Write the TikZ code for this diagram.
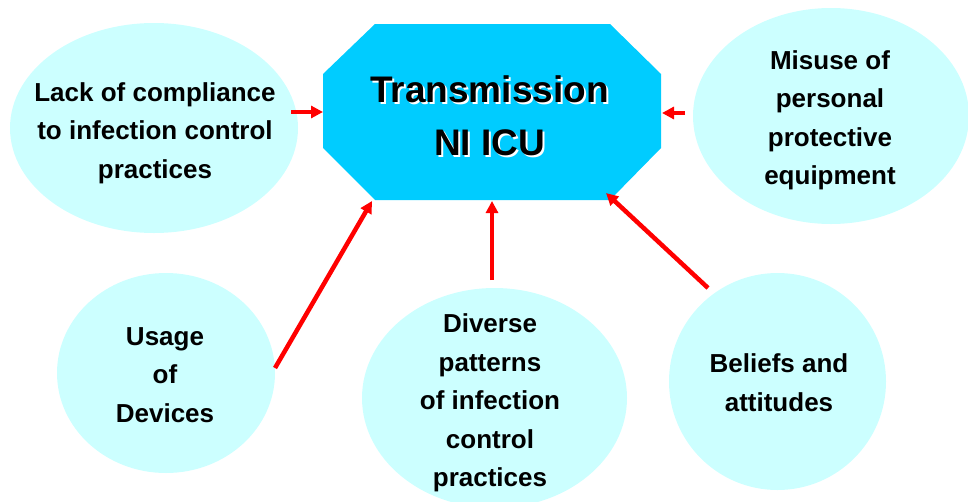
\documentclass[tikz,border=0pt]{standalone}
\usepackage{fontspec}
\setmainfont{Liberation Sans}
\usetikzlibrary{shapes.geometric,arrows.meta}
\definecolor{octblue}{HTML}{00CCFF}
\definecolor{blobcyan}{HTML}{CCFFFF}
\definecolor{arrred}{HTML}{FF0000}
\newcommand\shadowtxt[1]{\leavevmode\rlap{\kern2pt\raisebox{-2pt}{\color{white}#1}}#1}
\begin{document}
\begin{tikzpicture}[x=1pt,y=-1pt,
  blob/.style={ellipse,fill=blobcyan,draw=none,inner sep=0pt},
  txt/.style={align=center,inner sep=0pt,font=\bfseries\fontsize{26}{38.5}\selectfont},
  ttl/.style={align=center,inner sep=0pt,font=\bfseries\fontsize{37}{53}\selectfont},
  arr/.style={draw=arrred,line width=4.5pt,-{Triangle[length=12pt,width=12pt]}}]
\useasboundingbox (0,0) rectangle (968,501);
% central octagon
\fill[octblue] (375,24) -- (610,24) -- (661,74) -- (661,148) -- (610,200) -- (375,200) -- (323,148) -- (323,74) -- cycle;
\node[inner sep=0pt,minimum width=338pt,minimum height=176pt] (oct) at (492,112) {};
\node[ttl,text=black] (title) at (489.5,116.5) {\shadowtxt{Transmission}\\\shadowtxt{NI ICU}};
% ellipses
\node[blob,minimum width=288pt,minimum height=210pt] (lack) at (154,128) {};
\node[blob,minimum width=276pt,minimum height=216pt] (misuse) at (831,116) {};
\node[blob,minimum width=218pt,minimum height=200pt] (usage) at (166,373) {};
\node[blob,minimum width=265pt,minimum height=220pt] (diverse) at (494.5,398) {};
\node[blob,minimum width=217pt,minimum height=217pt] (beliefs) at (777.5,381.5) {};
% texts
\node[txt] (lackT) at (155,133) {Lack of compliance\\to infection control\\practices};
\node[txt] (misuseT) at (830,120.5) {Misuse of\\personal\\protective\\equipment};
\node[txt] (usageT) at (165,375) {Usage\\of\\Devices};
\node[txt] (diverseT) at (490,403) {Diverse\\patterns\\of infection\\control\\practices};
\node[txt] (beliefsT) at (779,382.5) {Beliefs and\\attitudes};
% arrow endpoints
\coordinate (t1) at (291,112); \coordinate (h1) at (323,112);
\coordinate (t2) at (685,113); \coordinate (h2) at (662,113);
\coordinate (t3) at (275,368); \coordinate (h3) at (372,201);
\coordinate (t4) at (492,280); \coordinate (h4) at (492,201);
\coordinate (t5) at (708,288); \coordinate (h5) at (606,193);
\draw[arr] (t1) -- (h1);
\draw[arr] (t2) -- (h2);
\draw[arr] (t3) -- (h3);
\draw[arr] (t4) -- (h4);
\draw[arr] (t5) -- (h5);
\end{tikzpicture}
\end{document}
